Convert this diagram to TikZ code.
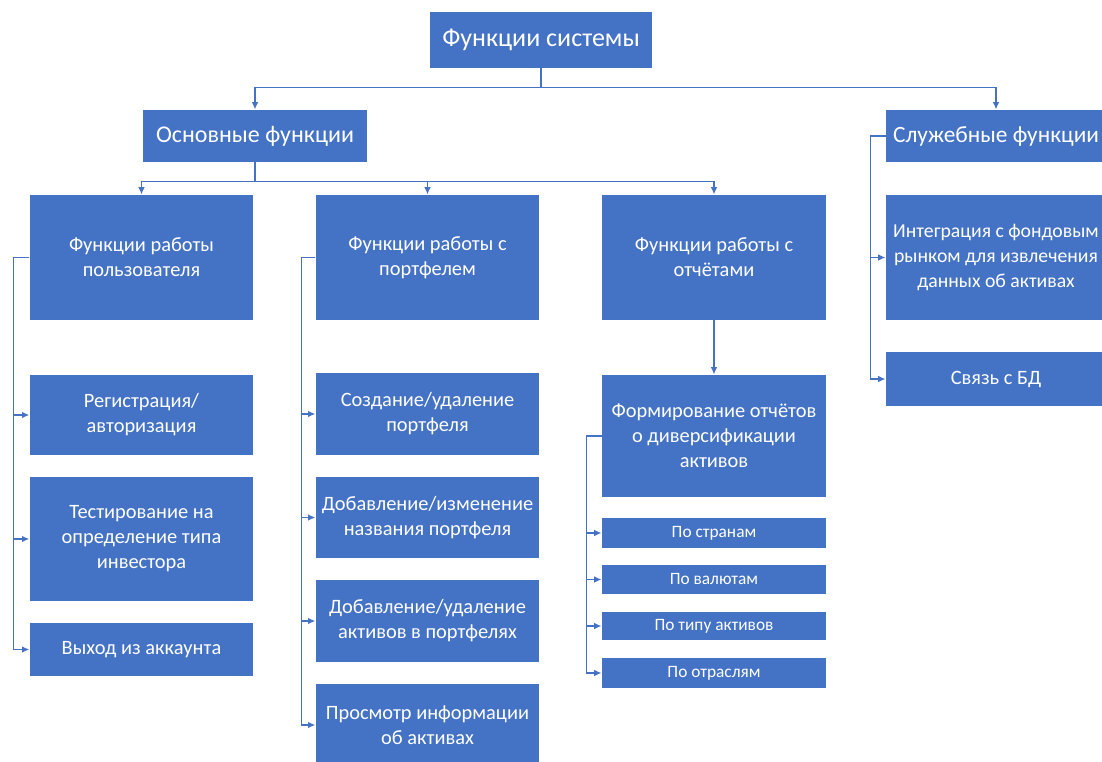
\documentclass[tikz,border=0pt]{standalone}
\usepackage{fontspec}
\setmainfont{Carlito}
\usetikzlibrary{arrows.meta}
\definecolor{boxblue}{RGB}{68,114,196}
\tikzset{every picture/.style={line width=0.75pt}}
\tikzset{
  blueblock/.style={fill=boxblue, text=white, align=center, inner sep=0pt,
    minimum width=167.5pt, font=\fontsize{15.3}{18.7}\selectfont},
  bigtext/.style={font=\fontsize{18}{21}\selectfont},
  smalltext/.style={font=\fontsize{13}{15}\selectfont},
  conn/.style={draw=boxblue, line width=1.1pt, -{Latex[length=5.5pt,width=5pt]}}
}

\begin{document}
\begin{tikzpicture}[x=0.75pt,y=0.75pt,yscale=-1,xscale=1]
\useasboundingbox (0,0) rectangle (1102,762);
\clip (0,0) rectangle (1102,762);

%Top level
\node[blueblock, font=\fontsize{19.5}{22}\selectfont, minimum width=166.5pt, minimum height=42pt] (sys) at (541,40) {Функции системы};
\node[blueblock, bigtext, minimum width=168pt, minimum height=39pt] (basic) at (255,136) {Основные функции};
\node[blueblock, font=\fontsize{17.5}{21}\selectfont, minimum width=165pt, minimum height=39pt] (service) at (996,136) {Служебные функции};

%Second level
\node[blueblock, minimum height=93.75pt] (user) at (141.5,257.5) {Функции работы\\пользователя};
\node[blueblock, minimum height=93.75pt] (portf) at (427.5,257.5) {Функции работы с\\портфелем};
\node[blueblock, minimum width=168pt, minimum height=93.75pt] (report) at (714,257.5) {Функции работы с\\отчётами};
\node[blueblock, font=\fontsize{14.8}{18.7}\selectfont, minimum width=165pt, minimum height=93.75pt] (integr) at (996,257.5) {Интеграция с фондовым\\рынком для извлечения\\данных об активах};

%User functions
\node[blueblock, minimum height=60pt] (reg) at (141.5,415) {Регистрация/\\авторизация};
\node[blueblock, minimum height=93pt] (test) at (141.5,539) {Тестирование на\\определение типа\\инвестора};
\node[blueblock, minimum height=39.75pt] (logout) at (141.5,649.5) {Выход из аккаунта};

%Portfolio functions
\node[blueblock, minimum height=61.5pt] (create) at (427.5,414) {Создание/удаление\\портфеля};
\node[blueblock, minimum height=60.75pt] (rename) at (427.5,517.5) {Добавление/изменение\\названия портфеля};
\node[blueblock, minimum height=61.5pt] (assets) at (427.5,621) {Добавление/удаление\\активов в портфелях};
\node[blueblock, minimum height=61.5pt] (view) at (427.5,725) {Просмотр информации\\об активах};

%Report functions
\node[blueblock, minimum width=168pt, minimum height=91.5pt] (divers) at (714,436) {Формирование отчётов\\о диверсификации\\активов};
\node[blueblock, smalltext, minimum width=168pt, minimum height=22pt] (country) at (714,533) {По странам};
\node[blueblock, smalltext, minimum width=168pt, minimum height=22pt] (currency) at (714,579.5) {По валютам};
\node[blueblock, smalltext, minimum width=168pt, minimum height=21pt] (atype) at (714,626) {По типу активов};
\node[blueblock, smalltext, minimum width=168pt, minimum height=22pt] (industry) at (714,673) {По отраслям};

%Service functions
\node[blueblock, minimum width=165pt, minimum height=40.5pt] (db) at (996,379) {Связь с БД};

%Connectors
\draw[conn] (sys.south) -- ++(0,19) -| (basic.north);
\draw[conn] (sys.south) -- ++(0,19) -| (service.north);
\draw[conn] (basic.south) -- ++(0,19) -| (user.north);
\draw[conn] (basic.south) -- ++(0,19) -| (portf.north);
\draw[conn] (basic.south) -- ++(0,19) -| (report.north);

\draw[conn] (user.west) -- ++(-16,0) |- (reg.west);
\draw[conn] (user.west) -- ++(-16,0) |- (test.west);
\draw[conn] (user.west) -- ++(-16,0) |- (logout.west);

\draw[conn] (portf.west) -- ++(-14,0) |- (create.west);
\draw[conn] (portf.west) -- ++(-14,0) |- (rename.west);
\draw[conn] (portf.west) -- ++(-14,0) |- (assets.west);
\draw[conn] (portf.west) -- ++(-14,0) |- (view.west);

\draw[conn] (report.south) -- (divers.north);
\draw[conn] (divers.west) -- ++(-15,0) |- (country.west);
\draw[conn] (divers.west) -- ++(-15,0) |- (currency.west);
\draw[conn] (divers.west) -- ++(-15,0) |- (atype.west);
\draw[conn] (divers.west) -- ++(-15,0) |- (industry.west);

\draw[conn] (service.west) -- ++(-15,0) |- (integr.west);
\draw[conn] (service.west) -- ++(-15,0) |- (db.west);

\end{tikzpicture}
\end{document}
